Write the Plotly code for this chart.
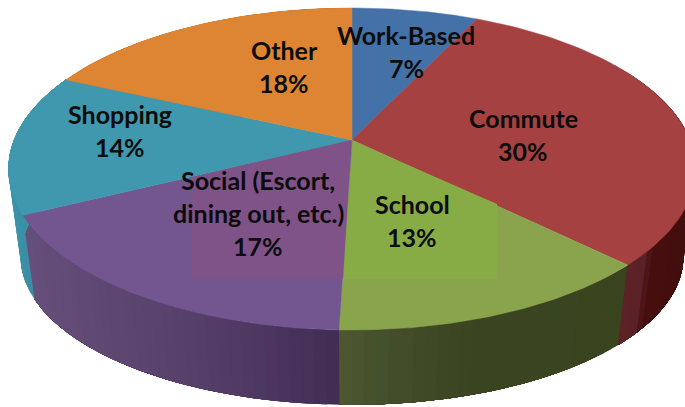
import numpy as np
import plotly.graph_objects as go

# slices run clockwise from 12 o'clock
categories = ["Work-Based", "Commute", "School", "Social (Escort,\ndining out, etc.)", "Shopping", "Other"]
shares = [7, 30, 13, 17, 14, 18]
top_colors = ["#4472a8", "#a54141", "#8aa44e", "#73568f", "#3f98ae", "#dd8533"]

# wall colours, [x, colour] stops read left to right
wall_stops = {
    "#a54141": [(620, "#5e2327"), (648, "#5a2226"), (651, "#470f10"), (690, "#430e0e")],
    "#8aa44e": [(340, "#4d5832"), (400, "#434d2a"), (470, "#3b4522"), (630, "#39441f")],
    "#73568f": [(20, "#66507c"), (120, "#5d4770"), (230, "#523c66"), (345, "#412c54")],
    "#3f98ae": [(0, "#3d93a9"), (45, "#3a8aa0")],
    "#dd8533": [(0, "#c8772c"), (685, "#c8772c")],
    "#4472a8": [(0, "#2f5078"), (685, "#2f5078")],
}

label_centers = [(406, 35), (523, 118), (412, 204), (258, 180), (120, 114), (284, 50)]
LINE_STEP = 33

# perspective of the disc: apex, shrink with depth, radius, rim heights
CX, APEX_Y = 352, 140
PERSP = 0.18
R_TOP, B_TOP = 338, -130.6
R_BOT, Y_BOT, B_BOT = 326, 230, -102


def rim(theta, radius, y0, b):
    u, v = np.sin(theta), np.cos(theta)
    den = 1 + PERSP * v
    return CX + radius * u / den, (y0 + b * v) / den


def hex_rgb(c):
    return np.array([int(c[i:i + 2], 16) for i in (1, 3, 5)])


def wall_color(stops, x):
    xs = [s[0] for s in stops]
    rgb = np.array([hex_rgb(s[1]) for s in stops])
    vals = [np.interp(x, xs, rgb[:, k]) for k in range(3)]
    return "rgb(%d,%d,%d)" % tuple(vals)


edges = np.cumsum([0] + shares) / sum(shares) * 2 * np.pi

fig = go.Figure()

# side wall first, each strip runs on under the next so no seams show
for i, color in enumerate(top_colors):
    t0, t1 = edges[i], edges[i + 1]
    n = max(2, int((t1 - t0) / 0.03))
    ts = np.linspace(t0, t1, n + 1)
    for a, b in zip(ts[:-1], ts[1:]):
        if np.cos(a) > 0.55:
            continue
        arc = np.linspace(a, t1, 40)
        xt, yt = rim(arc, R_TOP, APEX_Y, B_TOP)
        xb, yb = rim(arc[::-1], R_BOT, Y_BOT, B_BOT)
        shade = wall_color(wall_stops[color], rim((a + b) / 2, R_TOP, APEX_Y, B_TOP)[0])
        fig.add_trace(go.Scatter(
            x=[*xt, *xb, xt[0]], y=[*yt, *yb, yt[0]],
            mode="lines", fill="toself", fillcolor=shade,
            line=dict(width=0), hoverinfo="skip", showlegend=False,
        ))

# top face
for i, color in enumerate(top_colors):
    ts = np.linspace(edges[i], edges[i + 1], 60)
    xs, ys = rim(ts, R_TOP, APEX_Y, B_TOP)
    fig.add_trace(go.Scatter(
        x=[CX, *xs, CX], y=[APEX_Y, *ys, APEX_Y],
        mode="lines", fill="toself", fillcolor=color,
        line=dict(color=color, width=0.5), name=categories[i].replace("\n", " "),
        hoverinfo="name", showlegend=False,
    ))

fig.update_layout(
    width=685, height=407,
    margin=dict(l=0, r=0, t=0, b=0),
    paper_bgcolor="white", plot_bgcolor="white",
    showlegend=False,
    xaxis=dict(range=[0, 685], visible=False, fixedrange=True),
    yaxis=dict(range=[407, 0], visible=False, fixedrange=True),
    # paler patches left behind the labels in the source image
    shapes=[
        dict(type="path", path="M192,177 L351,140 L343,278 L192,278 Z",
             fillcolor="#7f5288", line_width=0, layer="above"),
        dict(type="path", path="M353,141 L497,204 L497,279 L344,279 Z",
             fillcolor="#87ab45", line_width=0, layer="above"),
    ],
)

for name, share, (lx, ly) in zip(categories, shares, label_centers):
    lines = name.split("\n") + [f"{share}%"]
    for k, line in enumerate(lines):
        fig.add_annotation(
            x=lx, y=ly + k * LINE_STEP, text=line, showarrow=False,
            font=dict(family="Lato", size=25, color="#0c0c0c", weight="bold"),
        )

fig.write_html("out.html", config={"displayModeBar": False},
               post_script="document.body.style.margin='0';document.body.style.overflow='hidden';")
